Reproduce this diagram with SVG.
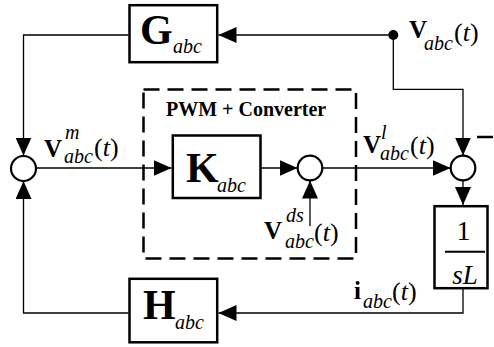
<svg xmlns="http://www.w3.org/2000/svg" width="494" height="347" viewBox="0 0 494 347" font-family="'Liberation Serif', 'Times New Roman', serif">
<style>
.box{fill:#fff;stroke:#000;stroke-width:2.5}
.sum{fill:#fff;stroke:#000;stroke-width:2.2}
.wire{fill:none;stroke:#000;stroke-width:1.3}
.dash{fill:none;stroke:#000;stroke-width:2.5;stroke-dasharray:16 8}
.big{font-size:42px;font-weight:bold}
.bsub{font-size:20px;font-style:italic}
.v{font-size:25px;font-weight:bold}
.sub{font-size:20px;font-style:italic}
.par{font-size:26px}
.it{font-style:italic}
.ttl{font-size:20px;font-weight:bold}
</style>
<defs>
<marker id="ah" viewBox="0 0 18 16" refX="18" refY="8" markerWidth="18" markerHeight="16" markerUnits="userSpaceOnUse" orient="auto">
<path d="M0,0 L18,8 L0,16 z" fill="#000"/>
</marker>
</defs>
<rect width="494" height="347" fill="#fff"/>

<g id="conv-block">
<rect class="dash" x="143.5" y="89.5" width="212.5" height="169"/>
<text class="ttl" x="166" y="115.5">PWM + Converter</text>
</g>
<path class="dash" d="M477,137 L494,137"/>

<g id="connectors">
<path class="wire" d="M393.3,35 L218.5,35" marker-end="url(#ah)"/>
<path class="wire" d="M128.5,35 L23.5,35 L23.5,155.5" marker-end="url(#ah)"/>
<path class="wire" d="M393.3,35 L393.3,89.3 L463,89.3 L463,155.5" marker-end="url(#ah)"/>
<path class="wire" d="M36,168 L171.5,168" marker-end="url(#ah)"/>
<path class="wire" d="M261.5,168 L297.5,168" marker-end="url(#ah)"/>
<path class="wire" d="M322.5,168 L450.5,168" marker-end="url(#ah)"/>
<path class="wire" d="M310,226 L310,180.5" marker-end="url(#ah)"/>
<path class="wire" d="M463,180.5 L463,205" marker-end="url(#ah)"/>
<path class="wire" d="M463,289 L463,313 L218.5,313" marker-end="url(#ah)"/>
<path class="wire" d="M128.5,313 L23.5,313 L23.5,181" marker-end="url(#ah)"/>
<circle cx="393.3" cy="35" r="5" fill="#000"/>
</g>

<g id="G">
<rect class="box" x="129.5" y="5.2" width="87.7" height="57"/>
<text class="big" x="140" y="43.5">G</text>
<text class="bsub" x="173" y="53">abc</text>
</g>

<g id="K">
<rect class="box" x="172.8" y="135.5" width="87.7" height="62.5"/>
<text class="big" x="186" y="181.5">K</text>
<text class="bsub" x="217" y="192">abc</text>
</g>

<g id="H">
<rect class="box" x="129.5" y="278.8" width="87.7" height="63.5"/>
<text class="big" x="143" y="318.5">H</text>
<text class="bsub" x="175" y="329">abc</text>
</g>

<g id="invL">
<rect class="box" x="434.5" y="206.2" width="53" height="82"/>
<text x="463.5" y="240" font-size="28" text-anchor="middle">1</text>
<line x1="445" y1="251.7" x2="485" y2="251.7" stroke="#000" stroke-width="2"/>
<text x="465" y="283.5" font-size="27" font-style="italic" text-anchor="middle">sL</text>
</g>

<g id="sum1"><circle class="sum" cx="23.5" cy="168.5" r="12.5"/></g>
<g id="sum2"><circle class="sum" cx="310" cy="168" r="12.3"/></g>
<g id="sum3"><circle class="sum" cx="463" cy="168" r="12.3"/></g>

<g id="lbl-v">
<text class="v" x="409" y="37.5">V</text>
<text class="sub" x="424" y="50">abc</text>
<text class="par" x="454" y="41">(<tspan class="it">t</tspan>)</text>
</g>
<g id="lbl-vm">
<text class="v" x="44" y="156.5">V</text>
<text class="sub" x="65" y="139">m</text>
<text class="sub" x="64" y="163">abc</text>
<text class="par" x="94" y="156">(<tspan class="it">t</tspan>)</text>
</g>
<g id="lbl-vl">
<text class="v" x="363" y="153">V</text>
<text class="sub" x="381" y="139">l</text>
<text class="sub" x="380" y="160">abc</text>
<text class="par" x="410" y="153.5">(<tspan class="it">t</tspan>)</text>
</g>
<g id="lbl-vds">
<text class="v" x="264" y="239">V</text>
<text class="sub" x="286" y="222">ds</text>
<text class="sub" x="285" y="247.5">abc</text>
<text class="par" x="314" y="241">(<tspan class="it">t</tspan>)</text>
</g>
<g id="lbl-i">
<text class="v" x="354" y="298.5">i</text>
<text class="sub" x="363" y="308">abc</text>
<text class="par" x="392" y="300">(<tspan class="it">t</tspan>)</text>
</g>
</svg>
